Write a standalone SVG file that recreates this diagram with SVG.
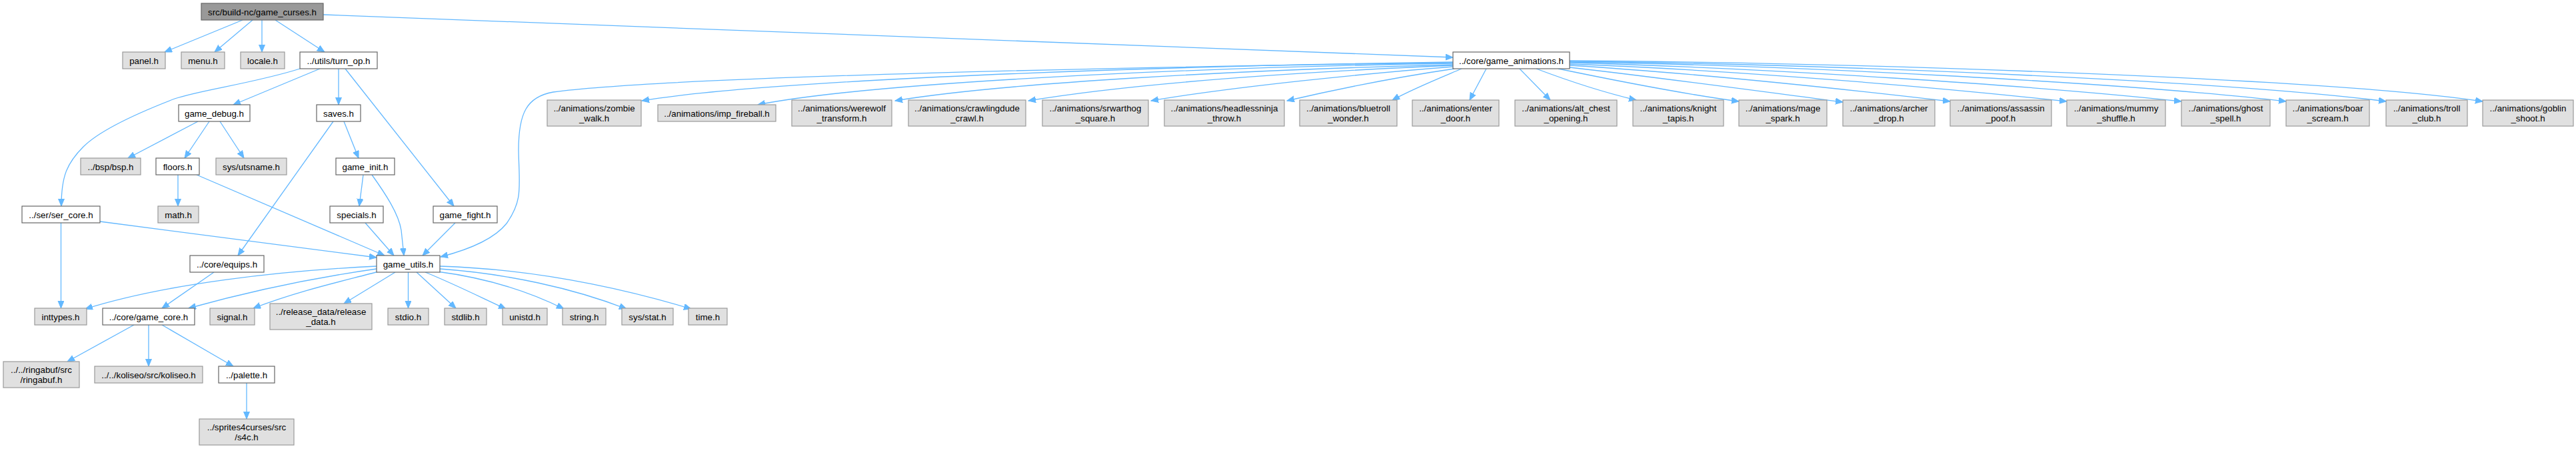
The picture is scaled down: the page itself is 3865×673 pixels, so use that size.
<svg xmlns="http://www.w3.org/2000/svg" width="3865" height="673" viewBox="0 0 3865 673">
<style>
.r{fill:#999999;stroke:#666666;stroke-width:1.2}
.n{fill:#ffffff;stroke:#666666;stroke-width:1.2}
.u{fill:#e0e0e0;stroke:#999999;stroke-width:1.2}
text{font-family:"Liberation Sans",Arial,sans-serif;font-size:13.33px;fill:#000;text-anchor:middle}
.e{fill:none;stroke:#63b8ff;stroke-width:1.3;marker-end:url(#ah)}
</style>
<defs>
<marker id="ah" markerUnits="userSpaceOnUse" markerWidth="12" markerHeight="10" refX="11" refY="4.5" orient="auto">
<path d="M0,0 L11,4.5 L0,9 z" fill="#63b8ff" stroke="#63b8ff" stroke-width="1"/>
</marker>
</defs>
<rect width="3865" height="673" fill="#ffffff"/>
<g id="edges">
<path class="e" d="M364,30 L247,78"/>
<path class="e" d="M379,30 L322,78"/>
<path class="e" d="M393,30 L393,78"/>
<path class="e" d="M413,30 L487,78"/>
<path class="e" d="M485,22 L2180,86"/>
<path class="e" d="M480,103 L350,157"/>
<path class="e" d="M508,103 L508,157"/>
<path class="e" d="M518,103 L681,309"/>
<path class="e" d="M450,103 C380,125 300,135 262,148 C210,168 150,195 125,220 C100,245 92,265 92,309"/>
<path class="e" d="M516,182 L538,237"/>
<path class="e" d="M500,182 L357,383"/>
<path class="e" d="M297,182 L192,237"/>
<path class="e" d="M314,182 L277,237"/>
<path class="e" d="M330,182 L366,237"/>
<path class="e" d="M267,262 L267,309"/>
<path class="e" d="M295,262 L577,383"/>
<path class="e" d="M545,262 L539,309"/>
<path class="e" d="M558,262 C578,290 598,320 602,345 L606,383"/>
<path class="e" d="M548,334 L591,383"/>
<path class="e" d="M683,334 L634,383"/>
<path class="e" d="M150,332 L565,386"/>
<path class="e" d="M91.5,334 L91.5,462"/>
<path class="e" d="M321,408 L243,462"/>
<path class="e" d="M2180,94 C1700,100 1000,115 830,138 C790,145 778,170 778,225 C779,280 785,300 760,335 C740,360 700,375 661,385"/>
<path class="e" d="M565,399 C420,406 250,425 128,463"/>
<path class="e" d="M565,403 C480,415 380,435 283,462"/>
<path class="e" d="M568,407 C520,420 450,435 380,462"/>
<path class="e" d="M593,408 L516,455"/>
<path class="e" d="M612.5,408 L612.5,462"/>
<path class="e" d="M625,408 L684,462"/>
<path class="e" d="M638,408 C680,425 720,445 759,463"/>
<path class="e" d="M656,407 C740,418 800,440 846,463"/>
<path class="e" d="M660,403 C760,410 860,432 940,463"/>
<path class="e" d="M660,399 C790,403 920,428 1037,463"/>
<path class="e" d="M201,487 L101,542"/>
<path class="e" d="M223,487 L223,549"/>
<path class="e" d="M243,487 L350,549"/>
<path class="e" d="M370,574 L370,628"/>
<path class="e" d="M2180,93 C1700,100 1150,120 963,151"/>
<path class="e" d="M2180,95 C1750,102 1300,125 1137,157"/>
<path class="e" d="M2180,97 C1850,105 1500,125 1343,151"/>
<path class="e" d="M2180,98 C1950,108 1700,125 1543,151"/>
<path class="e" d="M2180,100 C2050,110 1850,130 1727,151"/>
<path class="e" d="M2182,103 C2100,115 2000,135 1931,151"/>
<path class="e" d="M2193,103 C2160,117 2120,133 2089,150"/>
<path class="e" d="M2230,103 L2205,150"/>
<path class="e" d="M2280,103 L2326,150"/>
<path class="e" d="M2305,103 C2350,120 2400,137 2455,150"/>
<path class="e" d="M2338,103 C2420,120 2520,140 2609,152"/>
<path class="e" d="M2355,101 C2480,115 2650,138 2765,153"/>
<path class="e" d="M2355,98 C2550,110 2780,135 2926,152"/>
<path class="e" d="M2355,96 C2600,105 2900,130 3101,152"/>
<path class="e" d="M2355,94 C2650,102 3050,128 3273,152"/>
<path class="e" d="M2355,93 C2700,98 3200,125 3430,152"/>
<path class="e" d="M2355,92 C2750,96 3350,122 3580,152"/>
<path class="e" d="M2355,91 C2800,94 3500,118 3725,152"/>
</g>
<g id="root"><rect class="r" x="302" y="5" width="183" height="25"/><text x="393.5" y="22.5">src/build-nc/game_curses.h</text></g>
<g id="panel"><rect class="u" x="184" y="78" width="64" height="25"/><text x="216" y="95.5">panel.h</text></g>
<g id="menu"><rect class="u" x="272" y="78" width="65" height="25"/><text x="304.5" y="95.5">menu.h</text></g>
<g id="locale"><rect class="u" x="361" y="78" width="66" height="25"/><text x="394" y="95.5">locale.h</text></g>
<g id="turn_op"><rect class="n" x="450" y="78" width="116" height="25"/><text x="508" y="95.5">../utils/turn_op.h</text></g>
<g id="game_debug"><rect class="n" x="268" y="157" width="107" height="25"/><text x="321.5" y="174.5">game_debug.h</text></g>
<g id="saves"><rect class="n" x="475" y="157" width="66" height="25"/><text x="508" y="174.5">saves.h</text></g>
<g id="bsp"><rect class="u" x="121" y="237" width="90" height="25"/><text x="166" y="254.5">../bsp/bsp.h</text></g>
<g id="floors"><rect class="n" x="234" y="237" width="65" height="25"/><text x="266.5" y="254.5">floors.h</text></g>
<g id="utsname"><rect class="u" x="324" y="237" width="106" height="25"/><text x="377" y="254.5">sys/utsname.h</text></g>
<g id="game_init"><rect class="n" x="504" y="237" width="88" height="25"/><text x="548" y="254.5">game_init.h</text></g>
<g id="ser_core"><rect class="n" x="33" y="309" width="117" height="25"/><text x="91.5" y="326.5">../ser/ser_core.h</text></g>
<g id="math"><rect class="u" x="237" y="309" width="61" height="25"/><text x="267.5" y="326.5">math.h</text></g>
<g id="specials"><rect class="n" x="495" y="309" width="80" height="25"/><text x="535" y="326.5">specials.h</text></g>
<g id="game_fight"><rect class="n" x="650" y="309" width="96" height="25"/><text x="698" y="326.5">game_fight.h</text></g>
<g id="equips"><rect class="n" x="285" y="383" width="111" height="25"/><text x="340.5" y="400.5">../core/equips.h</text></g>
<g id="game_utils"><rect class="n" x="565" y="383" width="95" height="25"/><text x="612.5" y="400.5">game_utils.h</text></g>
<g id="inttypes"><rect class="u" x="52" y="462" width="78" height="25"/><text x="91" y="479.5">inttypes.h</text></g>
<g id="game_core"><rect class="n" x="154" y="462" width="138" height="25"/><text x="223" y="479.5">../core/game_core.h</text></g>
<g id="signal"><rect class="u" x="315" y="462" width="67" height="25"/><text x="348.5" y="479.5">signal.h</text></g>
<g id="release_data"><rect class="u" x="405" y="455" width="153" height="39"/><text x="481.5" y="472">../release_data/release</text><text x="481.5" y="487">_data.h</text></g>
<g id="stdio"><rect class="u" x="582" y="462" width="61" height="25"/><text x="612.5" y="479.5">stdio.h</text></g>
<g id="stdlib"><rect class="u" x="667" y="462" width="63" height="25"/><text x="698.5" y="479.5">stdlib.h</text></g>
<g id="unistd"><rect class="u" x="754" y="462" width="67" height="25"/><text x="787.5" y="479.5">unistd.h</text></g>
<g id="string"><rect class="u" x="844" y="462" width="65" height="25"/><text x="876.5" y="479.5">string.h</text></g>
<g id="sys_stat"><rect class="u" x="933" y="462" width="77" height="25"/><text x="971.5" y="479.5">sys/stat.h</text></g>
<g id="time"><rect class="u" x="1033" y="462" width="58" height="25"/><text x="1062" y="479.5">time.h</text></g>
<g id="ringabuf"><rect class="u" x="5" y="542" width="114" height="39"/><text x="62" y="559">../../ringabuf/src</text><text x="62" y="574">/ringabuf.h</text></g>
<g id="koliseo"><rect class="u" x="142" y="549" width="162" height="25"/><text x="223" y="566.5">../../koliseo/src/koliseo.h</text></g>
<g id="palette"><rect class="n" x="328" y="549" width="84" height="25"/><text x="370" y="566.5">../palette.h</text></g>
<g id="s4c"><rect class="u" x="299" y="628" width="142" height="39"/><text x="370" y="645">../sprites4curses/src</text><text x="370" y="660">/s4c.h</text></g>
<g id="game_animations"><rect class="n" x="2180" y="78" width="175" height="25"/><text x="2267.5" y="95.5">../core/game_animations.h</text></g>
<g id="zombie_walk"><rect class="u" x="821" y="150" width="141" height="39"/><text x="891.5" y="167">../animations/zombie</text><text x="891.5" y="182">_walk.h</text></g>
<g id="imp_fireball"><rect class="u" x="987" y="157" width="177" height="25"/><text x="1075.5" y="174.5">../animations/imp_fireball.h</text></g>
<g id="werewolf"><rect class="u" x="1188" y="150" width="150" height="39"/><text x="1263" y="167">../animations/werewolf</text><text x="1263" y="182">_transform.h</text></g>
<g id="crawlingdude"><rect class="u" x="1363" y="150" width="176" height="39"/><text x="1451" y="167">../animations/crawlingdude</text><text x="1451" y="182">_crawl.h</text></g>
<g id="srwarthog"><rect class="u" x="1564" y="150" width="159" height="39"/><text x="1643.5" y="167">../animations/srwarthog</text><text x="1643.5" y="182">_square.h</text></g>
<g id="headlessninja"><rect class="u" x="1747" y="150" width="180" height="39"/><text x="1837" y="167">../animations/headlessninja</text><text x="1837" y="182">_throw.h</text></g>
<g id="bluetroll"><rect class="u" x="1950" y="150" width="146" height="39"/><text x="2023" y="167">../animations/bluetroll</text><text x="2023" y="182">_wonder.h</text></g>
<g id="enter_door"><rect class="u" x="2119" y="150" width="130" height="39"/><text x="2184" y="167">../animations/enter</text><text x="2184" y="182">_door.h</text></g>
<g id="alt_chest"><rect class="u" x="2273" y="150" width="153" height="39"/><text x="2349.5" y="167">../animations/alt_chest</text><text x="2349.5" y="182">_opening.h</text></g>
<g id="knight"><rect class="u" x="2450" y="150" width="136" height="39"/><text x="2518" y="167">../animations/knight</text><text x="2518" y="182">_tapis.h</text></g>
<g id="mage"><rect class="u" x="2609" y="150" width="132" height="39"/><text x="2675" y="167">../animations/mage</text><text x="2675" y="182">_spark.h</text></g>
<g id="archer"><rect class="u" x="2765" y="150" width="138" height="39"/><text x="2834" y="167">../animations/archer</text><text x="2834" y="182">_drop.h</text></g>
<g id="assassin"><rect class="u" x="2926" y="150" width="152" height="39"/><text x="3002" y="167">../animations/assassin</text><text x="3002" y="182">_poof.h</text></g>
<g id="mummy"><rect class="u" x="3101" y="150" width="148" height="39"/><text x="3175" y="167">../animations/mummy</text><text x="3175" y="182">_shuffle.h</text></g>
<g id="ghost"><rect class="u" x="3273" y="150" width="133" height="39"/><text x="3339.5" y="167">../animations/ghost</text><text x="3339.5" y="182">_spell.h</text></g>
<g id="boar"><rect class="u" x="3430" y="150" width="125" height="39"/><text x="3492.5" y="167">../animations/boar</text><text x="3492.5" y="182">_scream.h</text></g>
<g id="troll"><rect class="u" x="3580" y="150" width="122" height="39"/><text x="3641" y="167">../animations/troll</text><text x="3641" y="182">_club.h</text></g>
<g id="goblin"><rect class="u" x="3725" y="150" width="136" height="39"/><text x="3793" y="167">../animations/goblin</text><text x="3793" y="182">_shoot.h</text></g>
</svg>
